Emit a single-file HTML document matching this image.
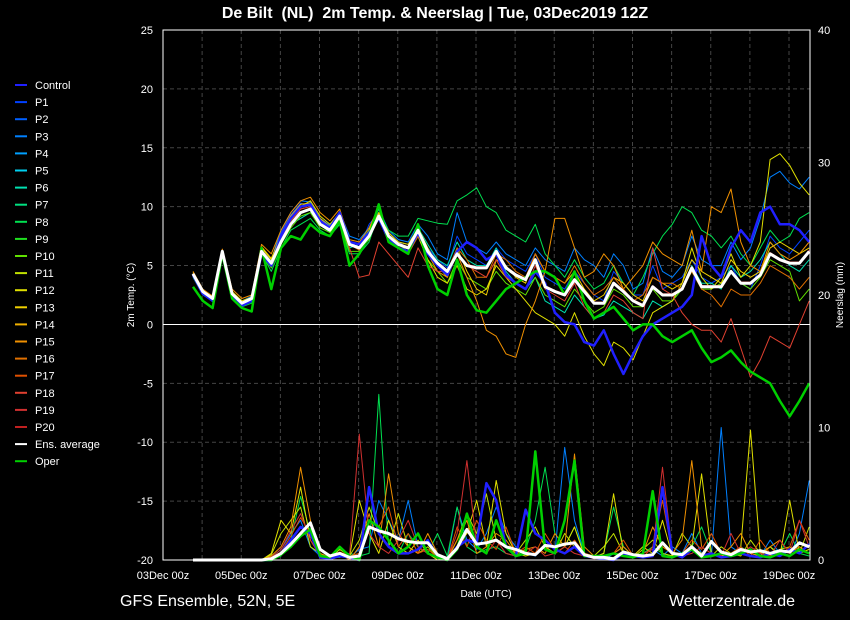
<!DOCTYPE html>
<html><head><meta charset="utf-8">
<style>
html,body{margin:0;padding:0;background:#000;}
svg{display:block;font-family:"Liberation Sans","DejaVu Sans",sans-serif;}
</style></head>
<body>
<svg id="chart" width="850" height="620" viewBox="0 0 850 620" xmlns="http://www.w3.org/2000/svg">
<rect x="0" y="0" width="850" height="620" fill="#000"/>
<text x="435" y="18" fill="#fff" font-size="16" font-weight="bold" text-anchor="middle" xml:space="preserve">De Bilt  (NL)  2m Temp. &amp; Neerslag | Tue, 03Dec2019 12Z</text>
<text x="120" y="606" fill="#fff" font-size="16">GFS Ensemble, 52N, 5E</text>
<text x="795" y="606" fill="#fff" font-size="16" text-anchor="end">Wetterzentrale.de</text>
<text transform="translate(134,295) rotate(-90)" fill="#fff" font-size="10" text-anchor="middle">2m Temp. (°C)</text>
<text transform="translate(843,295) rotate(-90)" fill="#fff" font-size="10" text-anchor="middle">Neerslag (mm)</text>
<text x="486" y="597" fill="#fff" font-size="10" text-anchor="middle">Date (UTC)</text>
<g id="grid"></g>
<g id="series"></g>
<g id="frame"></g>
<g id="legend"></g>
</svg>
<script>
const xTickLabels=["03Dec 00z","05Dec 00z","07Dec 00z","09Dec 00z","11Dec 00z","13Dec 00z","15Dec 00z","17Dec 00z","19Dec 00z"];
const yTicks=[-20,-15,-10,-5,0,5,10,15,20,25];
const y2Ticks=[0,10,20,30,40];
const meanTemp=[4.3,2.8,2.2,6.2,2.6,1.8,2.2,6.2,5.2,7.0,8.5,9.5,9.8,8.5,8.0,9.2,6.8,6.5,7.5,9.2,7.5,6.8,6.5,8.0,6.2,5.2,4.5,6.0,5.0,4.8,4.8,6.2,4.8,4.2,3.8,5.5,3.2,2.8,2.5,3.8,2.8,1.8,1.8,3.5,2.8,2.0,1.6,3.2,2.5,2.5,3.0,4.8,3.2,3.2,3.2,4.5,3.5,3.5,4.2,6.0,5.5,5.2,5.2,6.2];
const operTemp=[3.2,2.0,1.4,6.0,2.2,1.4,1.1,6.5,3.0,6.5,7.5,7.2,8.5,7.8,7.5,8.8,5.0,6.0,7.5,10.2,7.0,6.5,6.0,8.5,5.0,3.0,2.5,5.5,2.5,1.2,1.0,2.0,3.0,3.5,4.0,4.5,4.5,4.0,2.5,4.5,2.0,0.5,1.0,1.5,0.5,-0.5,0.0,0.0,-1.0,-1.5,-1.0,-0.5,-2.0,-3.2,-2.8,-2.2,-3.2,-4.0,-4.5,-5.0,-6.5,-7.8,-6.5,-5.0];
const controlTemp=[4.2,2.6,2.0,6.2,2.4,1.6,2.0,6.0,5.0,7.5,9.0,10.0,10.2,8.8,8.2,9.5,7.0,6.8,7.8,9.0,7.2,6.5,6.2,7.8,6.0,5.0,4.2,6.2,7.0,6.5,5.5,6.0,4.2,3.5,3.0,4.5,3.5,1.0,0.2,0.0,-1.5,-1.8,-0.5,-2.5,-4.2,-2.5,-1.0,0.0,0.5,1.0,1.5,2.5,7.5,5.0,4.0,6.5,8.0,7.0,9.5,10.0,8.5,8.5,8.0,7.0];
const p1Temp=[4.3,2.7,2.1,6.2,2.5,1.8,2.1,6.3,5.3,7.8,9.3,10.3,10.0,8.8,8.0,9.3,6.8,6.5,8.5,9.5,7.8,7.0,6.5,8.0,6.5,5.5,4.8,7.5,6.0,5.5,5.0,6.5,5.5,5.0,4.5,6.0,4.0,3.5,3.0,4.5,3.5,2.5,2.0,4.5,3.5,2.5,2.5,5.0,3.0,3.5,4.0,5.5,4.0,3.5,4.0,5.0,3.5,3.0,5.0,7.5,6.5,6.0,7.0,8.0];
const p3Temp=[4.4,3.0,2.3,6.3,2.7,2.0,2.4,6.5,5.5,8.0,9.5,10.5,10.4,9.0,8.4,9.6,7.5,7.2,8.2,9.8,8.0,7.2,7.0,8.5,7.5,6.0,5.5,9.5,7.0,6.5,6.0,7.0,6.0,5.5,5.0,6.5,5.5,5.0,4.5,6.5,5.5,5.0,4.0,6.0,5.0,3.0,3.5,6.5,4.5,4.0,5.0,7.5,5.5,5.0,5.0,7.0,5.5,6.5,9.0,12.5,13.0,12.0,11.5,12.5];
const p6Temp=[4.1,2.6,2.0,6.0,2.4,1.6,2.0,6.2,5.0,7.2,8.5,9.0,9.5,8.5,7.8,9.0,6.5,6.8,8.0,9.8,7.8,7.0,6.8,8.2,6.8,5.5,5.0,7.0,5.5,5.0,5.0,6.5,4.5,3.5,3.0,4.0,2.0,1.5,1.0,2.5,1.5,0.5,0.8,2.0,1.5,1.0,0.5,2.0,1.5,2.0,3.0,5.0,3.5,3.5,3.0,5.0,4.0,4.5,5.5,7.0,6.0,5.0,4.5,5.5];
const p8Temp=[4.0,2.5,2.0,6.0,2.5,1.5,1.8,6.0,4.5,6.5,8.0,8.5,9.0,8.0,7.5,8.5,6.0,6.0,7.0,9.5,8.0,7.5,7.5,9.0,8.8,8.6,8.5,10.5,11.0,11.6,10.0,9.5,8.0,7.5,7.0,8.5,6.0,5.0,4.0,5.5,4.0,3.0,3.5,5.0,3.5,2.5,4.0,6.0,7.5,8.5,10.0,9.5,8.0,7.5,6.5,7.5,6.0,5.0,6.5,8.0,7.0,7.5,9.0,9.5];
const p10Temp=[4.2,2.8,2.2,6.1,2.6,1.7,2.2,6.0,4.8,6.8,8.2,9.2,9.5,8.2,7.8,8.8,6.2,6.2,7.2,9.5,7.2,6.8,6.2,7.5,5.5,4.5,3.5,5.5,4.0,3.5,3.0,4.5,3.5,3.0,2.5,4.0,2.5,2.0,1.5,3.0,2.0,1.0,1.5,3.0,2.5,1.5,1.5,3.0,2.0,2.0,3.0,4.5,3.0,3.0,3.5,4.5,3.5,3.0,4.0,5.5,5.0,4.5,2.0,3.0];
const p12Temp=[4.3,2.9,2.2,6.2,2.8,2.0,2.3,6.5,5.5,7.5,9.0,10.0,10.5,9.2,8.5,9.5,7.0,6.5,8.0,10.0,7.5,6.5,6.0,7.5,5.5,4.0,3.5,5.0,3.0,2.5,3.0,5.0,4.0,3.0,2.0,1.0,0.5,0.0,-1.0,1.0,-1.0,-2.5,-3.5,-1.5,-2.0,-3.0,-1.0,1.0,1.5,2.0,3.5,6.5,4.0,3.0,4.0,6.0,4.0,5.0,7.0,14.0,14.5,13.5,12.0,11.0];
const p13Temp=[4.4,2.9,2.3,6.3,2.7,1.9,2.3,6.6,5.6,7.6,9.2,10.2,10.3,9.0,8.3,9.3,7.0,6.8,7.8,9.5,7.8,7.0,6.8,8.2,6.5,5.0,4.0,6.5,4.5,3.0,2.5,5.5,5.0,4.0,3.5,6.0,4.5,4.0,3.5,4.5,3.0,2.0,2.5,4.0,3.5,2.5,2.0,4.0,3.5,3.0,3.5,5.5,4.5,4.0,3.5,5.5,4.5,4.0,4.5,6.5,7.0,6.5,6.0,6.5];
const p15Temp=[4.5,3.0,2.4,6.4,3.0,2.2,2.5,6.8,6.0,8.0,9.5,10.5,10.8,9.5,8.8,9.8,7.2,7.0,8.2,10.0,7.5,6.8,6.5,7.5,6.0,4.5,4.0,6.0,4.0,2.0,-0.5,-1.0,-2.5,-2.8,0.0,2.0,4.5,9.0,9.0,6.5,4.0,4.5,6.0,5.0,3.0,4.0,5.0,7.0,6.0,5.5,5.0,8.0,4.5,10.0,9.5,11.5,7.0,5.0,4.5,7.0,6.0,5.5,6.0,7.0];
const p16Temp=[4.3,2.8,2.2,6.2,2.6,1.9,2.2,6.3,5.3,7.3,8.8,9.8,10.0,8.8,8.0,9.0,6.8,6.3,7.5,9.0,7.0,6.5,6.0,7.5,6.0,5.0,4.5,6.5,5.5,4.0,4.0,6.0,5.5,4.5,4.0,6.0,4.5,4.0,3.5,5.0,3.5,2.5,3.0,4.0,3.0,2.0,2.5,4.0,3.5,3.5,3.0,4.5,3.0,2.5,1.5,3.0,2.5,2.5,3.5,5.0,4.5,4.0,3.0,4.0];
const p18Temp=[4.2,2.7,2.1,6.1,2.5,1.7,2.1,6.0,5.0,7.0,8.8,9.8,10.0,8.5,8.0,9.0,6.5,4.0,4.2,7.0,6.0,5.0,4.0,6.5,5.0,4.5,4.5,6.0,5.0,4.5,4.0,5.5,4.0,3.5,3.0,5.0,3.0,2.5,2.0,3.5,1.5,0.5,1.0,2.5,2.0,1.0,0.5,6.5,3.0,2.5,1.0,0.0,-0.5,-0.5,-1.5,0.5,-2.0,-4.5,-3.0,-1.0,-1.5,-2.0,0.0,2.0];
const p20Temp=[4.3,2.8,2.2,6.2,2.7,1.8,2.2,6.2,5.2,7.2,8.6,9.6,9.8,8.6,8.1,9.2,6.8,6.6,7.6,9.3,7.6,6.9,6.6,8.1,6.3,5.3,4.6,6.1,5.1,4.9,4.9,6.3,4.9,4.3,3.9,5.6,3.3,2.9,2.6,3.9,2.9,1.9,1.9,3.6,2.9,2.1,1.7,3.3,2.6,2.6,3.1,4.9,3.3,3.3,3.3,4.6,3.6,3.6,4.3,6.1,5.6,5.3,5.3,6.3];
const memberTemps=[p1Temp,p3Temp,p6Temp,p8Temp,p10Temp,p12Temp,p13Temp,p15Temp,p16Temp,p18Temp,p20Temp];
const memberColors=["#0040ff","#0080ff","#00e0b0","#00e050","#60e000","#e0e000","#f0d000","#f09000","#e07000","#e04030","#c02020"];
const meanPrecip=[0,0,0,0,0,0,0,0,0.1,0.5,1.2,2.0,2.8,0.8,0.3,0.5,0.2,0.3,2.5,2.2,2.0,1.6,1.4,1.3,1.3,0.4,0.1,0.9,2.3,1.2,1.3,1.5,1.0,0.8,0.5,0.4,1.1,1.0,1.2,1.3,0.4,0.2,0.2,0.1,0.6,0.4,0.3,0.4,1.3,0.5,0.4,1.0,0.3,1.4,0.6,0.4,0.8,0.6,0.7,0.5,0.7,0.6,1.3,1.0];
const operPrecip=[0,0,0,0,0,0,0,0,0,0.4,1.0,1.8,2.3,0.3,0.2,1.0,0.3,0.0,3.0,2.5,1.5,0.5,1.0,2.0,0.5,0.2,0,0.8,3.5,1.0,0.5,3.0,1.0,0.3,0.5,8.2,0.8,0.5,3.0,7.5,0.3,0.3,0.3,0.5,0.3,0.2,0.5,5.2,0.3,0.2,0.5,0.8,0.2,0.3,0.5,0.3,0.5,0.8,0.3,0.2,0.5,0.3,0.8,0.5];
const controlPrecip=[0,0,0,0,0,0,0,0,0,0.5,1.5,2.5,2.0,0.2,0.1,0.3,0.2,0.0,5.5,2.0,1.0,0.5,0.5,0.8,1.5,0.3,0.0,1.0,1.5,1.3,5.8,4.5,1.0,0.3,3.8,2.0,1.5,0.8,0.5,1.0,0.3,0.2,0.1,0.0,0.5,0.3,0.2,0.3,5.5,0.5,0.2,0.8,0.3,0.5,0.2,0.3,0.5,0.3,0.2,0.5,0.3,0.8,0.5,1.2];
const p3Precip=[0,0,0,0,0,0,0,0,0.2,0.8,2.0,3.0,1.0,0.3,0.0,0.5,0.2,0.8,1.0,4.5,3.0,1.5,4.5,1.0,0.5,0.3,0.0,4.0,1.5,0.8,2.0,4.0,2.0,1.0,0.5,0.3,1.0,0.5,8.5,3.0,0.5,0.2,0.0,0.5,1.0,0.3,0.5,0.8,0.3,1.0,0.5,2.0,0.5,0.3,10.0,1.0,0.5,0.8,0.3,1.5,0.5,0.3,2.0,6.0];
const p8Precip=[0,0,0,0,0,0,0,0,0,0.3,1.5,4.8,2.0,0.5,0.2,0.2,0.5,0.3,0.5,12.5,1.0,0.5,2.0,1.0,0.5,2.0,0.3,4.0,1.0,0.5,0.8,1.0,0.5,0.3,0.8,3.0,7.0,2.0,1.0,2.5,0.5,0.2,0.5,4.0,1.0,0.3,0.5,1.0,0.5,0.3,0.5,1.0,2.5,0.5,0.3,0.5,1.0,0.5,0.3,1.0,0.5,2.0,0.5,0.3];
const p11Precip=[0,0,0,0,0,0,0,0,0.4,2.0,3.0,4.0,1.0,0.5,0.1,0.8,0.3,1.5,4.0,2.0,1.0,3.5,1.0,0.5,1.0,0.2,0.1,1.5,3.5,2.0,5.0,1.5,1.0,0.5,1.5,2.5,1.0,0.5,2.0,1.0,0.5,0.3,1.0,2.0,0.5,0.2,0.8,1.5,0.5,0.3,2.0,1.0,0.5,0.3,1.0,0.5,0.3,1.5,0.5,0.3,0.8,1.0,0.5,2.5];
const p12Precip=[0,0,0,0,0,0,0,0,0.5,3.0,2.0,5.5,1.5,0.3,0.0,0.3,0.2,4.5,2.0,0.5,3.0,1.0,0.5,1.5,0.5,0.0,0.2,1.0,2.0,4.5,1.0,6.0,2.0,0.5,0.3,0.5,1.0,0.5,1.0,2.5,0.3,0.2,0.5,5.0,0.5,0.3,1.0,0.5,3.0,0.3,0.5,1.0,6.5,0.5,0.3,0.5,1.0,9.8,0.5,1.0,0.3,4.5,0.5,0.8];
const p15Precip=[0,0,0,0,0,0,0,0,0.3,1.0,2.5,7.0,3.0,0.5,0.2,0.5,0.0,1.0,3.5,1.0,6.5,2.0,1.0,0.5,2.0,0.5,0.0,1.5,3.0,0.5,1.0,2.0,1.5,0.5,0.8,1.0,0.5,2.0,1.0,8.0,1.0,0.3,0.2,0.5,1.0,0.3,0.5,2.5,1.0,0.5,1.5,7.5,1.0,0.5,0.3,1.0,2.0,0.5,0.3,1.0,1.5,0.5,1.0,0.5];
const p17Precip=[0,0,0,0,0,0,0,0,0.2,0.6,1.8,3.2,2.0,0.2,0.1,0.6,0.3,0.5,3.0,2.5,4.0,1.0,2.0,0.5,0.8,0.2,0.0,2.5,1.0,3.0,1.5,0.8,2.5,0.5,1.0,0.5,2.0,0.8,0.5,1.5,0.5,0.3,0.2,0.5,1.5,0.3,0.2,1.0,4.5,0.5,0.5,1.5,0.8,2.0,0.5,0.5,1.0,0.3,1.5,0.5,0.3,1.0,3.0,1.5];
const p19Precip=[0,0,0,0,0,0,0,0,0.2,0.8,2.2,3.5,1.5,0.3,0.1,0.5,0.3,9.5,2.0,1.0,0.5,1.5,3.0,1.0,0.5,0.2,0.0,2.0,7.5,1.0,0.5,1.5,0.5,0.3,0.5,1.0,0.3,0.5,1.0,0.5,0.3,0.1,0.2,0.5,0.3,0.2,0.5,0.8,7.0,0.5,0.3,0.5,1.0,0.5,0.3,2.0,0.5,1.0,0.5,0.3,1.5,0.5,3.0,1.0];
const memberPrecips=[p3Precip,p8Precip,p11Precip,p12Precip,p15Precip,p17Precip,p19Precip];
const precipColors=["#0080ff","#00e050","#c0e000","#e0e000","#f09000","#e05000","#d03030"];
const legendNames=["Control","P1","P2","P3","P4","P5","P6","P7","P8","P9","P10","P11","P12","P13","P14","P15","P16","P17","P18","P19","P20","Ens. average","Oper"];
const legendColors=["#2020ff","#0040ff","#0060ff","#0080ff","#00a0ff","#00d0f0","#00e0b0","#00e080","#00e050","#20e020","#60e000","#c0e000","#e0e000","#f0d000","#f0b000","#f09000","#e07000","#e05000","#e04030","#d03030","#c02020","#ffffff","#00d000"];

const NS="http://www.w3.org/2000/svg";
const L=163,R=810,T=30,B=560;
const xStep=(789-163)/64;
function xIdx(i){return 193+i*xStep;}
function yT(v){return B-(v+20)*(B-T)/45;}
function yP(v){return B-v*(B-T)/40;}
function mk(tag,attrs,parent){const e=document.createElementNS(NS,tag);for(const k in attrs)e.setAttribute(k,attrs[k]);parent.appendChild(e);return e;}
const grid=document.getElementById('grid'),ser=document.getElementById('series'),frame=document.getElementById('frame'),leg=document.getElementById('legend');

for(let d=1;d<17;d++){const x=L+d*(789-163)/16;
 const g=mk('line',{x1:x,x2:x,y1:T,y2:B,stroke:'#444','stroke-dasharray':'4,3','stroke-width':1},grid);
 
 }
yTicks.forEach(v=>{const y=yT(v);
 const g=mk('line',{x1:L,x2:R,y1:y,y2:y,stroke:v===0?'#fff':'#444','stroke-dasharray':v===0?'':'4,3','stroke-width':1},grid);
 
 
 const t=mk('text',{x:L-10,y:y+4,fill:'#fff','font-size':11,'text-anchor':'end'},frame);t.textContent=v;
 
 });
y2Ticks.forEach(v=>{const y=yP(v);
 const t=mk('text',{x:R+8,y:y+4,fill:'#fff','font-size':11},frame);t.textContent=v;
 
 });
xTickLabels.forEach((s,i)=>{const x=L+i*(789-163)/8;
 const t=mk('text',{x:x,y:579,fill:'#fff','font-size':11,'text-anchor':'middle'},frame);t.textContent=s;
 
 });
const fr=mk('rect',{x:L,y:T,width:R-L,height:B-T,fill:'none',stroke:'#fff','stroke-width':1},frame);



function line(arr,fy,color,w,name){
 const pts=arr.map((v,i)=>xIdx(i).toFixed(1)+','+fy(v).toFixed(1)).join(' ');
 const p=mk('polyline',{points:pts,fill:'none',stroke:color,'stroke-width':w,'stroke-linejoin':'round'},ser);
 
 }
memberPrecips.forEach((a,k)=>line(a,yP,precipColors[k],1,'member-precip-line'));
memberTemps.forEach((a,k)=>line(a,yT,memberColors[k],1,'member-temp-line'));
line(controlPrecip,yP,'#2020ff',2.5,'control-precip-line');
line(controlTemp,yT,'#2020ff',2.5,'control-temp-line');
line(operPrecip,yP,'#00d000',2.5,'oper-precip-line');
line(operTemp,yT,'#00d000',2.5,'oper-temp-line');
line(meanPrecip,yP,'#ffffff',3,'mean-precip-line');
line(meanTemp,yT,'#ffffff',3,'mean-temp-line');

legendNames.forEach((n,i)=>{const y=85+i*17.1;
 const g=mk('g',{},leg);
 
 
 mk('line',{x1:15,x2:27,y1:y,y2:y,stroke:legendColors[i],'stroke-width':2},g);
 const t=mk('text',{x:35,y:y+4,fill:'#fff','font-size':11},g);t.textContent=n;});
</script>
</body></html>
